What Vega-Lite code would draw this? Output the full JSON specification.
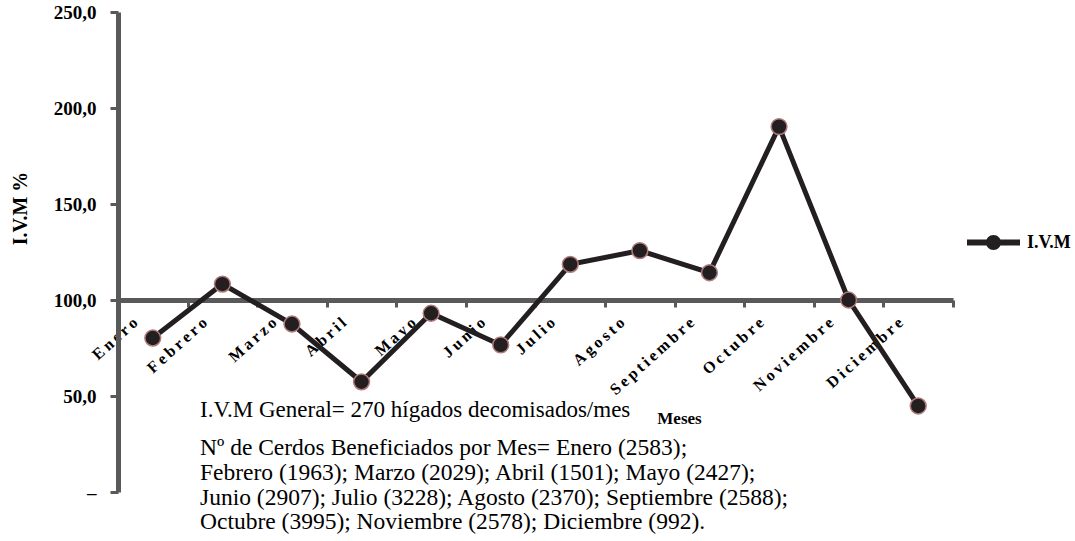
{
  "$schema": "https://vega.github.io/schema/vega-lite/v6.json",
  "width": 835,
  "height": 480,
  "autosize": {"type": "none"},
  "padding": {"left": 118, "top": 12, "right": 122, "bottom": 49},
  "background": "white",
  "config": {"view": {"stroke": null}, "font": "Liberation Serif"},
  "title": {
    "text": "I.V.M General= 270 hígados decomisados/mes",
    "subtitle": [
      "Nº de Cerdos Beneficiados por Mes= Enero (2583);",
      "Febrero (1963); Marzo (2029); Abril (1501); Mayo (2427);",
      "Junio (2907); Julio (3228); Agosto (2370); Septiembre (2588);",
      "Octubre (3995); Noviembre (2578); Diciembre (992)."
    ],
    "orient": "top",
    "anchor": "start",
    "frame": "group",
    "offset": 0,
    "dx": 82,
    "dy": 531,
    "font": "Liberation Serif",
    "fontSize": 23,
    "fontWeight": "normal",
    "color": "#000000",
    "subtitleFont": "Liberation Serif",
    "subtitleFontSize": 23.5,
    "subtitleColor": "#000000",
    "subtitleLineHeight": 24.8,
    "subtitlePadding": 14
  },
  "data": {
    "values": [
      {"mes": "Enero", "ivm": 80.2},
      {"mes": "Febrero", "ivm": 108.3},
      {"mes": "Marzo", "ivm": 87.5},
      {"mes": "Abril", "ivm": 57.4},
      {"mes": "Mayo", "ivm": 93.1},
      {"mes": "Junio", "ivm": 76.6},
      {"mes": "Julio", "ivm": 118.6},
      {"mes": "Agosto", "ivm": 125.7},
      {"mes": "Septiembre", "ivm": 114.2},
      {"mes": "Octubre", "ivm": 190.3},
      {"mes": "Noviembre", "ivm": 100.0},
      {"mes": "Diciembre", "ivm": 44.8}
    ]
  },
  "encoding": {
    "x": {
      "field": "mes",
      "type": "ordinal",
      "sort": null,
      "scale": {"type": "band", "paddingInner": 0, "paddingOuter": 0},
      "axis": {
        "title": "Meses",
        "orient": "bottom",
        "offset": -192,
        "domainColor": "#595959",
        "domainWidth": 5,
        "tickColor": "#595959",
        "tickWidth": 3,
        "tickSize": 7,
        "tickBand": "extent",
        "labelAngle": -42,
        "labelAlign": "right",
        "labelBaseline": "middle",
        "labelOffset": -18,
        "labelPadding": 13,
        "labelFont": "Liberation Serif",
        "labelFontWeight": "bold",
        "labelFontSize": 16,
        "labelColor": "#000000",
        "labelOverlap": false,
        "labelExpr": "join(split(datum.label, ''), '\u2009')",
        "titleFont": "Liberation Serif",
        "titleFontSize": 17,
        "titleFontWeight": "bold",
        "titleColor": "#000000",
        "titleX": 561,
        "titleY": 123,
        "titleAlign": "center",
        "titleBaseline": "alphabetic"
      }
    },
    "y": {
      "field": "ivm",
      "type": "quantitative",
      "scale": {"domain": [0, 250], "nice": false},
      "axis": {
        "title": "I.V.M %",
        "values": [0, 50, 100, 150, 200, 250],
        "grid": false,
        "domainColor": "#595959",
        "domainWidth": 5,
        "tickColor": "#595959",
        "tickWidth": 3,
        "tickSize": 8,
        "labelPadding": 14,
        "labelFont": "Liberation Serif",
        "labelFontSize": 19,
        "labelFontWeight": "bold",
        "labelColor": "#000000",
        "labelExpr": "datum.value == 0 ? '–' : replace(format(datum.value, '.1f'), '.', ',')",
        "titleFont": "Liberation Serif",
        "titleFontSize": 20,
        "titleFontWeight": "bold",
        "titleColor": "#000000",
        "titleX": -98,
        "titleY": 196,
        "titleAngle": -90,
        "titleAlign": "center",
        "titleBaseline": "middle"
      }
    }
  },
  "layer": [
    {"mark": {"type": "line", "color": "#231f20", "strokeWidth": 5}},
    {
      "mark": {"type": "point", "filled": true, "size": 250, "stroke": "#b07a7a", "strokeWidth": 1.5, "opacity": 1},
      "encoding": {
        "fill": {
          "datum": "I.V.M",
          "scale": {"range": ["#231f20"]},
          "legend": {
            "title": null,
            "orient": "none",
            "legendX": 849,
            "legendY": 204,
            "padding": 0,
            "symbolType": "M-1,-0.113L1,-0.113L1,0.113L-1,0.113Z M-0.283,0A0.283,0.283 0 1,1 0.283,0A0.283,0.283 0 1,1 -0.283,0Z",
            "symbolSize": 2809,
            "symbolFillColor": "#231f20",
            "symbolStrokeWidth": 0,
            "symbolOpacity": 1,
            "labelFont": "Liberation Serif",
            "labelFontSize": 18,
            "labelFontWeight": "bold",
            "labelColor": "#000000",
            "labelOffset": 7
          }
        }
      }
    }
  ]
}
